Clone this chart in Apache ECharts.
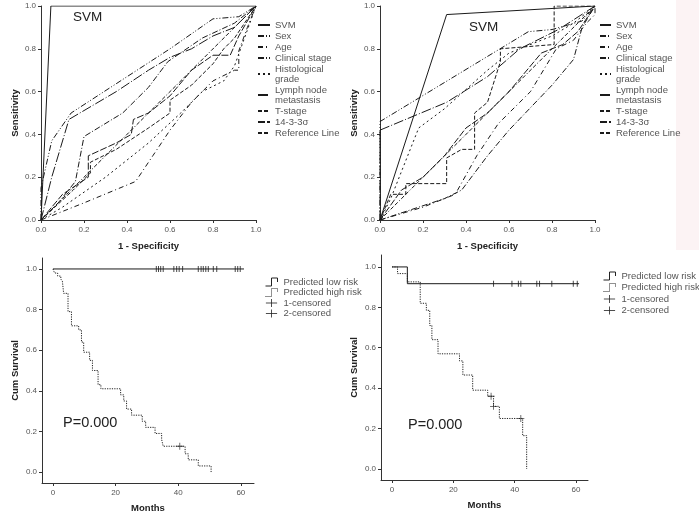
<!DOCTYPE html>
<html><head><meta charset="utf-8">
<script src="https://cdn.jsdelivr.net/npm/echarts@6/dist/echarts.min.js"></script>
<style>html,body{margin:0;padding:0;background:#fff}#c{width:699px;height:516px}</style>
</head><body><div id="c"></div>
<script>
// ================= DATA =================
const rocTicks = [0, 0.2, 0.4, 0.6, 0.8, 1.0];
const kmYTicks = [0, 0.2, 0.4, 0.6, 0.8, 1.0];
const kmXTicks = [0, 20, 40, 60];
const rocNames = ['SVM', 'Sex', 'Age', 'Clinical stage', 'Histological grade', 'Lymph node metastasis', 'T-stage', '14-3-3σ', 'Reference Line'];
const kmNames = ['Predicted low risk', 'Predicted high risk', '1-censored', '2-censored'];

// Left ROC panel ( [1-specificity, sensitivity] )
const rocL_SVM = [[0,0],[0.046,1],[1,1]];
const rocL_Sex = [[0,0],[0.08,0.08],[0.16,0.18],[0.2,0.39],[0.38,0.5],[0.5,0.62],[0.59,0.74],[0.75,0.85],[0.9,0.92],[1,1]];
const rocL_Age = [[0,0],[0.2,0.08],[0.44,0.18],[0.52,0.3],[0.6,0.42],[0.7,0.55],[0.8,0.65],[0.9,0.7],[0.92,0.7],[0.92,0.79],[0.96,0.9],[1,1]];
const rocL_Clin = [[0,0],[0,0.15],[0.05,0.37],[0.14,0.5],[0.6,0.8],[0.8,0.94],[0.92,0.95],[1,1]];
const rocL_Hist = [[0,0],[0.1,0.06],[0.3,0.2],[0.5,0.36],[0.65,0.5],[0.75,0.6],[0.85,0.65],[0.9,0.72],[1,1]];
const rocL_Lymph = [[0,0],[0.05,0.2],[0.13,0.47],[0.35,0.6],[0.5,0.7],[0.6,0.76],[0.7,0.8],[0.8,0.86],[0.9,0.9],[1,1]];
const rocL_T = [[0,0],[0.15,0.14],[0.23,0.22],[0.23,0.27],[0.35,0.33],[0.5,0.43],[0.6,0.5],[0.6,0.56],[0.7,0.63],[0.8,0.73],[0.85,0.8],[0.9,0.85],[1,1]];
const rocL_1433 = [[0,0],[0.1,0.12],[0.22,0.2],[0.22,0.3],[0.35,0.36],[0.42,0.4],[0.43,0.47],[0.5,0.5],[0.6,0.58],[0.7,0.7],[0.8,0.77],[0.88,0.77],[0.92,0.86],[1,1]];
const rocL_Ref = [[0,0],[1,1]];

// Right ROC panel
const rocR_SVM = [[0,0],[0.31,0.96],[1,1]];
const rocR_Sex = [[0,0],[0.3,0.1],[0.38,0.14],[0.5,0.3],[0.6,0.42],[0.8,0.63],[0.9,0.75],[0.94,0.9],[1,1]];
const rocR_Age = [[0,0],[0.2,0.06],[0.35,0.12],[0.45,0.3],[0.55,0.45],[0.7,0.6],[0.82,0.8],[0.9,0.84],[0.96,0.92],[1,0.96],[1,1]];
const rocR_Clin = [[0,0],[0,0.46],[0.69,0.88],[0.8,0.89],[0.94,0.93],[1,1]];
const rocR_Hist = [[0,0],[0.05,0.1],[0.18,0.43],[0.3,0.52],[0.5,0.7],[0.6,0.78],[0.8,0.86],[0.9,0.92],[1,1]];
const rocR_Lymph = [[0,0],[0,0.42],[0.31,0.55],[0.5,0.67],[0.65,0.8],[0.83,0.89],[1,1]];
const rocR_T = [[0,0],[0.05,0.12],[0.12,0.12],[0.12,0.17],[0.31,0.17],[0.31,0.29],[0.38,0.33],[0.44,0.33],[0.44,0.5],[0.5,0.55],[0.56,0.74],[0.56,0.8],[0.81,0.82],[0.81,1.0],[1,1]];
const rocR_1433 = [[0,0],[0.1,0.14],[0.2,0.2],[0.3,0.3],[0.4,0.43],[0.5,0.5],[0.6,0.6],[0.75,0.78],[0.85,0.82],[0.92,0.88],[1,1]];
const rocR_Ref = [[0,0],[1,1]];

// Left Kaplan-Meier panel ( [months, cum survival] )
const kmL_low = [[0,1],[61,1]];
const kmL_high = [[0,1],[0.5,0.98],[1.5,0.965],[2.5,0.95],[3,0.94],[3.4,0.88],[4.8,0.79],[5.9,0.72],[8.2,0.70],[9.1,0.64],[9.8,0.59],[11.7,0.55],[12.6,0.50],[14.4,0.43],[15.3,0.41],[21.6,0.38],[22.6,0.35],[23.5,0.31],[25.1,0.28],[28.5,0.25],[29.6,0.22],[32.6,0.19],[34.7,0.16],[35.2,0.127],[42.2,0.09],[43.2,0.06],[46.4,0.03],[50.5,0.0]];
const kmL_cens1 = [[33,1],[33.7,1],[34.4,1],[35.2,1],[38.6,1],[39.5,1],[40.3,1],[41.4,1],[46.4,1],[47.3,1],[48,1],[48.8,1],[49.6,1],[51.2,1],[52.3,1],[58.2,1],[59,1],[59.8,1]];
const kmL_cens2 = [[40.5,0.127]];

// Right Kaplan-Meier panel
const kmR_low = [[0,1],[5,0.917],[61,0.917]];
const kmR_high = [[0,1],[1.8,0.967],[5,0.926],[9.2,0.82],[11.2,0.785],[12.3,0.71],[13,0.64],[15,0.57],[22,0.535],[23.1,0.465],[26.3,0.39],[31.2,0.36],[33.1,0.31],[35,0.25],[42.6,0.165],[43.9,0.0]];
const kmR_cens1 = [[33.1,0.917],[39.1,0.917],[41.2,0.917],[42,0.917],[47.2,0.917],[48.1,0.917],[52.1,0.917],[59.1,0.917],[60.4,0.917]];
const kmR_cens2 = [[32.3,0.36],[33.1,0.31],[42,0.25]];

// ================= STYLES =================
const FONT = 'Liberation Sans, Arial, sans-serif';
const dash = {
  'SVM': 'solid',
  'Sex': [6,2,1,2],
  'Age': [5,3,1,3],
  'Clinical stage': [6,2,1,2,1,2],
  'Histological grade': [2,3],
  'Lymph node metastasis': [10,2,1,2],
  'T-stage': [4,2],
  '14-3-3σ': [7,2],
  'Reference Line': [4,2,4,2,1,2]
};
const rocLeft = [rocL_SVM, rocL_Sex, rocL_Age, rocL_Clin, rocL_Hist, rocL_Lymph, rocL_T, rocL_1433, rocL_Ref];
const rocRight = [rocR_SVM, rocR_Sex, rocR_Age, rocR_Clin, rocR_Hist, rocR_Lymph, rocR_T, rocR_1433, rocR_Ref];

function rocSeries(idx, arrs) {
  return rocNames.map((n, i) => ({
    name: n, type: 'line', xAxisIndex: idx, yAxisIndex: idx, data: arrs[i],
    symbol: 'none', animation: false,
    lineStyle: { color: '#1a1a1a', width: 1, type: dash[n] },
    itemStyle: { color: '#1a1a1a' }
  }));
}
function kmSeries(idx, low, high, c1, c2) {
  return [
    { name: kmNames[0], type: 'line', step: 'end', xAxisIndex: idx, yAxisIndex: idx, data: low, symbol: 'none', animation: false,
      lineStyle: { color: '#1a1a1a', width: 1 }, itemStyle: { color: '#1a1a1a' } },
    { name: kmNames[1], type: 'line', step: 'end', xAxisIndex: idx, yAxisIndex: idx, data: high, symbol: 'none', animation: false,
      lineStyle: { color: '#222', width: 1, type: [1.2,1.2] }, itemStyle: { color: '#222' } },
    { name: kmNames[2], type: 'scatter', xAxisIndex: idx, yAxisIndex: idx, data: c1, animation: false,
      symbol: 'path://M0 0h1v10h-1z', symbolSize: [1,6], itemStyle: { color: '#1a1a1a' } },
    { name: kmNames[3], type: 'scatter', xAxisIndex: idx, yAxisIndex: idx, data: c2, animation: false,
      symbol: 'path://M4 0h1v4h4v1h-4v4h-1v-4h-4v-1h4z', symbolSize: 7, itemStyle: { color: '#1a1a1a' } }
  ];
}

const axisBase = {
  axisLine: { onZero: false, lineStyle: { color: '#333', width: 1 } },
  axisTick: { length: 3, lineStyle: { color: '#333' } },
  splitLine: { show: false },
  nameLocation: 'middle',
  nameTextStyle: { fontFamily: FONT, fontSize: 9.5, fontWeight: 'bold', color: '#222' }
};
const lbl = (m) => ({ fontFamily: FONT, fontSize: 8, color: '#555', margin: m, formatter: v => (+v).toFixed(1) });

function rocX(gi) { return Object.assign({}, axisBase, { gridIndex: gi, type: 'value', min: 0, max: 1, interval: 0.2, name: '1 - Specificity', nameGap: 21, axisLabel: lbl(6) }); }
function rocY(gi) { return Object.assign({}, axisBase, { gridIndex: gi, type: 'value', min: 0, max: 1, interval: 0.2, name: 'Sensitivity', nameGap: 21, axisLabel: lbl(5) }); }
function kmX(gi, mn, mx) { return Object.assign({}, axisBase, { gridIndex: gi, type: 'value', min: mn, max: mx, name: 'Months', nameGap: 20,
  axisLabel: { fontFamily: FONT, fontSize: 8, color: '#555', margin: 6, customValues: kmXTicks, formatter: v => String(Math.round(v)) },
  axisTick: { length: 3, lineStyle: { color: '#333' }, customValues: kmXTicks } }); }
function kmY(gi, mn, mx) { return Object.assign({}, axisBase, { gridIndex: gi, type: 'value', min: mn, max: mx, name: 'Cum Survival', nameGap: 22,
  axisLabel: Object.assign(lbl(5), { customValues: kmYTicks }),
  axisTick: { length: 3, lineStyle: { color: '#333' }, customValues: kmYTicks } }); }

const legendText = { fontFamily: FONT, fontSize: 9.5, color: '#555', lineHeight: 10 };
function rocLegend(left, w) {
  return { orient: 'vertical', left: left, top: 20, padding: 0, itemWidth: w, itemHeight: 10, itemGap: 1, itemTextGap: 3,
    data: rocNames, textStyle: legendText, selectedMode: false,
    itemStyle: { color: 'rgba(0,0,0,0)', borderColor: 'rgba(0,0,0,0)', borderWidth: 0 },
    formatter: n => n === 'Histological grade' ? 'Histological\ngrade' : (n === 'Lymph node metastasis' ? 'Lymph node\nmetastasis' : n) };
}
function kmLegend(left, top, gap) {
  const st = { color: 'rgba(0,0,0,0)', borderColor: '#222', borderWidth: 1 };
  return { orient: 'vertical', left: left, top: top, padding: 0, itemWidth: 14, itemHeight: 8, itemGap: gap, itemTextGap: 2, selectedMode: false,
    textStyle: legendText,
    data: [
      { name: kmNames[0], icon: 'path://M0 9L6 9L6 1L12 1L12 5', itemStyle: st },
      { name: kmNames[1], icon: 'path://M0 9L6 9L6 1L12 1L12 5', itemStyle: Object.assign({}, st, { borderType: [1,1] }) },
      { name: kmNames[2], icon: 'path://M0 5L14 5M7 0L7 10', itemStyle: st },
      { name: kmNames[3], icon: 'path://M0 5L14 5M7 0L7 10', itemStyle: st }
    ] };
}
const ttl = (t, l, tp, fs) => ({ text: t, left: l, top: tp, padding: 0, textStyle: { fontFamily: FONT, fontSize: fs, fontWeight: 'normal', color: '#222' } });

const chart = echarts.init(document.getElementById('c'), null, { renderer: 'canvas' });
chart.setOption({
  backgroundColor: '#fff',
  animation: false,
  title: [ttl('SVM', 73, 10, 13.5), ttl('SVM', 469, 20, 13.5), ttl('P=0.000', 63, 415, 14.5), ttl('P=0.000', 408, 417, 14.5)],
  graphic: [{ type: 'rect', shape: { x: 676, y: 0, width: 23, height: 250 }, style: { fill: '#fcf3f4' }, silent: true, z: -10 }],
  grid: [
    { left: 41, top: 6, width: 215, height: 214 },
    { left: 380, top: 6, width: 215, height: 214 },
    { left: 42, top: 258, width: 212, height: 225 },
    { left: 381, top: 255, width: 207, height: 225 }
  ],
  xAxis: [rocX(0), rocX(1), kmX(2, -3.51, 64.2), kmX(3, -3.59, 63.9)],
  yAxis: [rocY(0), rocY(1), kmY(2, -0.054, 1.054), kmY(3, -0.0545, 1.059)],
  legend: [rocLegend(257, 12), rocLegend(599, 11), kmLegend(265, 277, 0.5), kmLegend(603, 271, 1.5)],
  series: [].concat(
    rocSeries(0, rocLeft), rocSeries(1, rocRight),
    kmSeries(2, kmL_low, kmL_high, kmL_cens1, kmL_cens2),
    kmSeries(3, kmR_low, kmR_high, kmR_cens1, kmR_cens2)
  )
});
</script></body></html>
